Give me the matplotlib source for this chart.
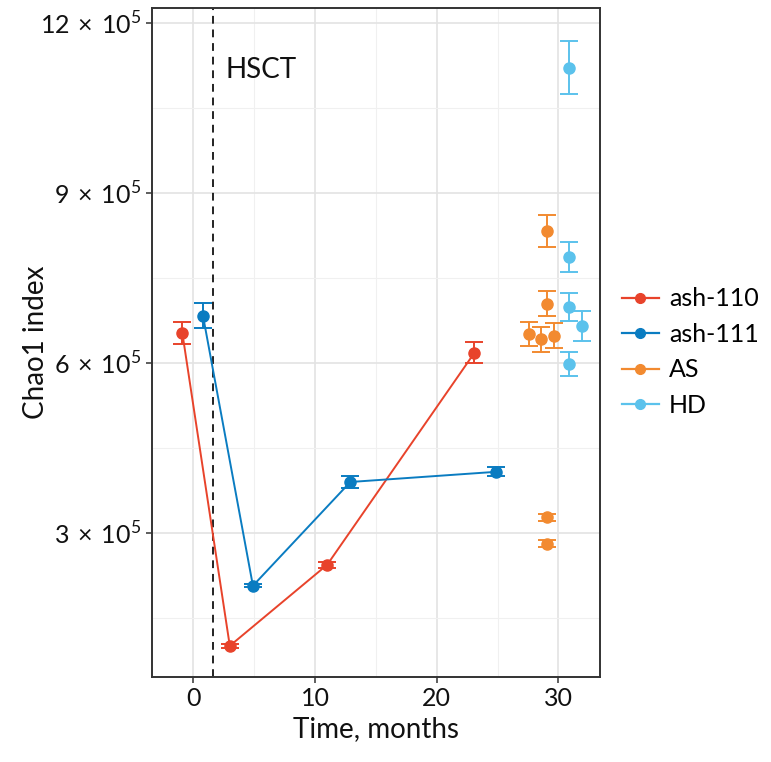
import matplotlib.pyplot as plt
from matplotlib.lines import Line2D
from matplotlib.ticker import FixedLocator, FuncFormatter

plt.rcParams['font.family'] = ['Lato', 'DejaVu Sans']
plt.rcParams['mathtext.fontset'] = 'custom'
plt.rcParams['mathtext.rm'] = 'Lato'

# patient series (x = months, y = Chao1, err = +/-)
ash110_x = [-0.9, 3.0, 11.0, 23.1]
ash110_y = [6.53e5, 1.01e5, 2.44e5, 6.18e5]
ash110_err = [0.19e5, 0.03e5, 0.05e5, 0.19e5]

ash111_x = [0.8, 4.9, 12.9, 24.9]
ash111_y = [6.83e5, 2.07e5, 3.90e5, 4.08e5]
ash111_err = [0.22e5, 0.03e5, 0.10e5, 0.08e5]

# reference groups
as_x = [29.1, 29.1, 27.6, 28.6, 29.6, 29.1, 29.1]
as_y = [8.33e5, 7.04e5, 6.51e5, 6.42e5, 6.48e5, 3.28e5, 2.81e5]
as_err = [0.28e5, 0.22e5, 0.22e5, 0.22e5, 0.22e5, 0.06e5, 0.06e5]

hd_x = [30.9, 30.9, 30.9, 31.9, 30.9]
hd_y = [11.21e5, 7.87e5, 6.99e5, 6.65e5, 5.98e5]
hd_err = [0.46e5, 0.27e5, 0.25e5, 0.26e5, 0.21e5]

labels = ['ash-110', 'ash-111', 'AS', 'HD']
colors = ['#E8432B', '#0A7CC1', '#F28A30', '#5BC2EC']

hsct_x = 1.65

fig = plt.figure(figsize=(7.71, 7.62), dpi=100)
ax = fig.add_axes([0.197, 0.1115, 0.581, 0.878])

ekw = dict(capsize=6.5, capthick=1.4, elinewidth=1.4, markersize=8, marker='o')
ax.errorbar(ash110_x, ash110_y, yerr=ash110_err, color=colors[0], lw=1.4, **ekw)
ax.errorbar(ash111_x, ash111_y, yerr=ash111_err, color=colors[1], lw=1.4, **ekw)
ax.errorbar(as_x, as_y, yerr=as_err, color=colors[2], lw=0, **ekw)
ax.errorbar(hd_x, hd_y, yerr=hd_err, color=colors[3], lw=0, **ekw)

ax.axvline(hsct_x, color='#222222', ls=(0, (4, 3)), lw=1.4)
ax.text(hsct_x + 1.0, 11.17e5, 'HSCT', fontsize=20, va='center', ha='left', color='#111111')

ax.set_xlim(-3.4, 33.4)
ax.set_ylim(0.46e5, 12.26e5)
ax.xaxis.set_major_locator(FixedLocator([0, 10, 20, 30]))
ax.xaxis.set_minor_locator(FixedLocator([-5, 5, 15, 25]))
ax.yaxis.set_major_locator(FixedLocator([3e5, 6e5, 9e5, 12e5]))
ax.yaxis.set_minor_locator(FixedLocator([1.5e5, 4.5e5, 7.5e5, 10.5e5]))
ax.yaxis.set_major_formatter(FuncFormatter(lambda v, p: r'$%d\,\times\,10^{5}$' % round(v / 1e5)))

ax.grid(which='major', color='#E3E3E3', lw=1.2)
ax.grid(which='minor', color='#F0F0F0', lw=0.8)
ax.set_axisbelow(True)
for s in ax.spines.values():
    s.set_color('#333333')
    s.set_linewidth(1.4)
ax.tick_params(which='major', length=4, width=1.1, color='#333333', labelsize=18, labelcolor='#111111')
ax.tick_params(which='minor', length=0)

ax.set_xlabel('Time, months', fontsize=20, color='#111111')
ax.set_ylabel('Chao1 index', fontsize=20, color='#111111')
ax.yaxis.set_label_coords(-0.23, 0.5)

handles = [Line2D([], [], color=c, marker='o', markersize=7, lw=1.6) for c in colors]
fig.legend(handles, labels, loc='center left', bbox_to_anchor=(0.777, 0.538), frameon=False,
           fontsize=18, handlelength=1.5, handletextpad=0.4, labelspacing=0.5)

fig.savefig('out.png', dpi=100, facecolor='white')
